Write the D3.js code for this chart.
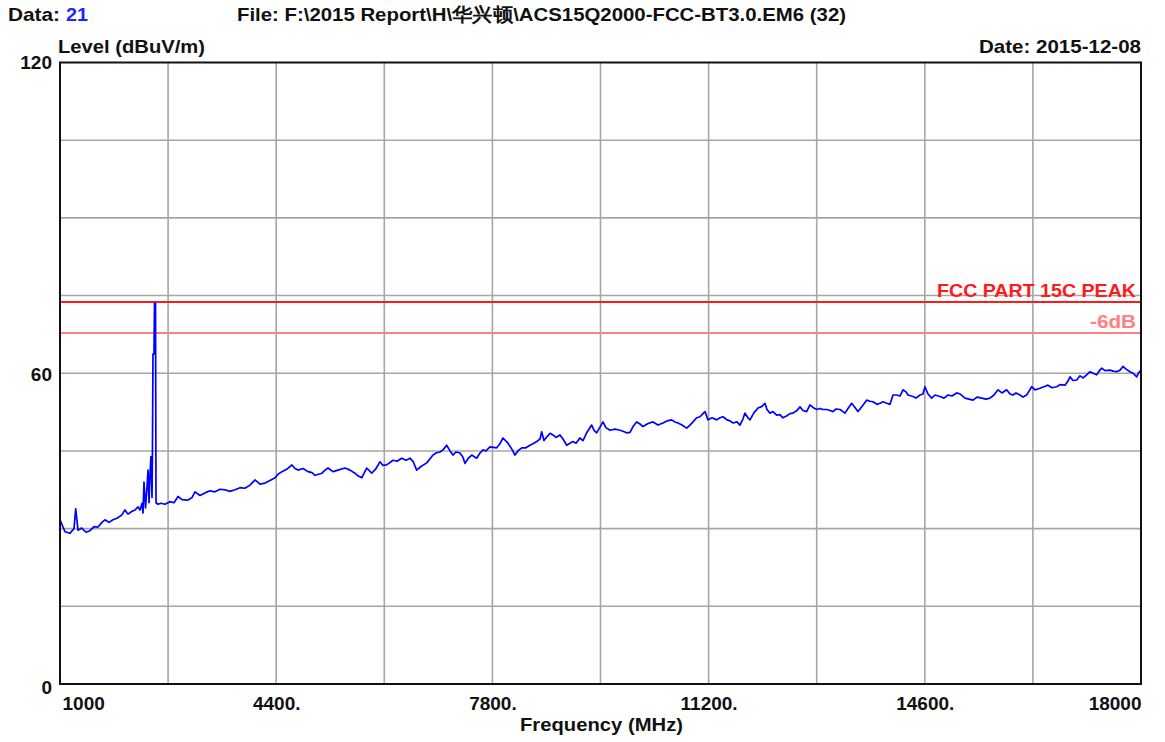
<!DOCTYPE html>
<html>
<head>
<meta charset="utf-8">
<script src="https://cdn.jsdelivr.net/npm/d3@7"></script>
<style>
  body { margin: 0; background: #fff; }
  svg text { font-family: "Liberation Sans", Arial, sans-serif; font-weight: bold; fill: #111; }
</style>
</head>
<body>
<svg id="chart" width="1165" height="742"></svg>
<script>
// sweep (MHz / dBuV/m)
var freqs = [1000,1079,1157,1220,1247,1283,1341,1409,1472,1535,1598,1660,1708,1771,1833,1896,1970,2022,2069,2128,
  2180,2227,2258,2290,2305,2321,2345,2368,2384,2400,2415,2431,2447,2454,2462,2478,2486,2502,2510,2541,
  2588,2651,2698,2730,2793,2856,2919,3013,3076,3123,3202,3280,3359,3437,3516,3595,3673,3752,3831,3909,
  3988,4066,4145,4224,4302,4381,4428,4491,4570,4648,4695,4743,4822,4900,4963,5010,5120,5167,5215,5293,
  5372,5482,5561,5639,5686,5745,5823,5902,5970,6032,6080,6138,6237,6300,6373,6441,6504,6551,6609,6677,
  6767,6866,6913,6976,7023,7081,7133,7180,7227,7290,7337,7369,7416,7474,7553,7605,7652,7699,7762,7867,
  7919,7966,8045,8108,8155,8202,8261,8328,8391,8439,8497,8548,8575,8611,8654,8706,8753,8800,8863,8910,
  8969,9020,9067,9115,9177,9225,9282,9319,9361,9397,9439,9492,9539,9586,9649,9728,9806,9853,9912,9964,
  10011,10069,10121,10168,10247,10326,10404,10483,10546,10619,10671,10719,10781,10855,10907,10955,11013,11065,11112,11144,
  11191,11254,11327,11379,11426,11489,11536,11584,11646,11693,11741,11772,11819,11851,11914,11977,12040,12086,12118,12165,
  12212,12270,12322,12369,12432,12479,12527,12589,12637,12684,12742,12794,12841,12900,12952,12999,13057,13109,13156,13203,
  13266,13313,13345,13392,13450,13502,13549,13612,13686,13738,13785,13848,13895,13943,14001,14053,14100,14158,14210,14257,
  14304,14336,14414,14461,14524,14571,14603,14650,14708,14760,14839,14902,14965,15028,15101,15153,15232,15295,15358,15421,
  15494,15562,15625,15688,15751,15814,15887,15940,15987,16034,16097,16144,16202,16238,16281,16333,16411,16474,16537,16600,
  16674,16726,16805,16852,16884,16931,16989,17041,17089,17136,17199,17246,17304,17340,17382,17434,17513,17560,17618,17670,
  17717,17765,17827,17875,17933,17969,18000];
var levels = [31.7,29.4,29.1,30.0,33.8,29.7,30.1,29.3,29.6,30.4,30.3,31.2,31.7,31.2,31.7,32.0,32.6,33.6,32.8,33.3,
  33.6,34.2,33.6,34.9,33.0,39.0,34.0,38.0,41.3,35.0,40.5,43.9,36.0,45.0,63.7,63.7,73.5,73.5,35.0,34.7,
  34.9,34.7,35.0,35.2,35.0,36.2,35.6,35.5,36.0,37.1,36.4,36.9,37.3,37.1,37.6,37.5,37.2,37.5,37.9,37.8,
  38.4,39.4,38.6,38.8,39.3,39.8,40.5,41.0,41.5,42.3,41.6,41.3,41.6,41.0,40.8,40.3,40.7,41.3,41.7,41.0,
  41.3,41.7,41.3,40.7,40.2,39.8,41.7,40.7,41.6,42.9,42.2,42.3,43.2,43.0,43.6,43.2,43.6,43.0,41.3,42.0,
  42.7,44.2,44.6,44.8,45.2,46.1,45.0,44.2,44.8,44.6,43.8,42.6,43.5,44.2,43.6,44.6,45.2,45.0,45.8,45.6,
  46.4,47.5,46.5,45.3,44.2,45.0,45.6,45.6,46.1,46.4,46.8,47.3,48.7,47.0,47.7,48.4,48.1,47.6,48.1,47.3,
  46.1,46.5,46.8,46.5,47.5,47.0,48.5,49.2,50.0,49.0,48.5,49.6,50.6,49.5,49.0,49.2,49.0,48.8,48.5,48.6,
  49.7,50.6,50.2,49.7,50.3,50.6,50.0,50.4,50.8,51.0,50.6,50.4,50.0,49.4,50.0,50.6,51.4,51.6,52.2,52.6,
  51.0,51.4,51.0,51.4,51.6,51.0,50.8,50.4,50.6,50.0,51.2,52.3,51.4,51.0,52.4,53.3,53.6,54.2,53.0,52.3,
  52.6,51.9,52.0,51.4,51.8,52.2,52.3,52.8,53.5,52.8,52.6,53.9,53.4,53.0,53.2,53.0,53.0,52.8,52.6,53.1,
  53.0,52.6,52.3,53.2,54.2,53.4,52.6,53.6,54.8,54.6,54.5,54.0,54.2,54.5,54.2,54.0,55.8,55.8,55.6,56.8,
  56.4,55.8,55.5,55.2,55.8,56.0,57.4,56.0,55.2,55.8,55.5,55.2,55.8,55.6,56.2,56.0,55.2,55.0,54.8,55.4,
  55.2,55.0,55.2,55.8,56.8,56.2,56.8,56.0,55.8,56.2,55.8,55.4,55.8,56.5,57.4,56.8,57.1,57.4,57.7,57.2,
  57.4,57.8,57.7,58.5,59.3,58.6,58.7,59.5,59.1,59.6,60.3,60.0,59.7,60.4,61.0,60.5,60.6,60.4,60.3,60.6,
  61.3,60.8,60.3,60.0,59.3,60.2,60.6];

var limitNames = ["FCC PART 15C PEAK", "-6dB"];
var limitLevels = [74, 68];
var limitColors = ["#ff1a1a", "#ff8080"];

var xTicks = [1000, 4400, 7800, 11200, 14600, 18000];
var yTicks = [0, 60, 120];

var svg = d3.select("#chart");
var plotLeft = 60, plotRight = 1141, plotTop = 62.5, plotBottom = 684;

var x = d3.scaleLinear().domain([1000, 18000]).range([plotLeft, plotRight]);
var y = d3.scaleLinear().domain([0, 120]).range([plotBottom, plotTop]);

// grid
svg.append("g").selectAll("line")
  .data(d3.range(1000 + 1700, 18000, 1700))
  .join("line")
  .attr("x1", d => x(d)).attr("x2", d => x(d))
  .attr("y1", plotTop).attr("y2", plotBottom)
  .attr("stroke", "#a6a6a6").attr("stroke-width", 1.6);
svg.append("g").selectAll("line")
  .data(d3.range(15, 120, 15))
  .join("line")
  .attr("x1", plotLeft).attr("x2", plotRight)
  .attr("y1", d => y(d)).attr("y2", d => y(d))
  .attr("stroke", "#a6a6a6").attr("stroke-width", 1.6);

// limit lines (drawn 1px lower, like the original)
limitLevels.forEach(function (lv, i) {
  svg.append("line")
    .attr("x1", plotLeft).attr("x2", plotRight)
    .attr("y1", y(lv) + 1.2).attr("y2", y(lv) + 1.2)
    .attr("stroke", limitColors[i]).attr("stroke-width", 2);
});

// trace
var line = d3.line().x((d, i) => x(freqs[i])).y(d => y(d));
svg.append("path")
  .datum(levels)
  .attr("d", line)
  .attr("fill", "none")
  .attr("stroke", "#0000ff")
  .attr("stroke-width", 1.7)
  .attr("stroke-linejoin", "round");

// frame
svg.append("rect")
  .attr("x", plotLeft).attr("y", plotTop)
  .attr("width", plotRight - plotLeft).attr("height", plotBottom - plotTop)
  .attr("fill", "none").attr("stroke", "#111").attr("stroke-width", 2);

// axes
var xAxis = d3.axisBottom(x).tickValues(xTicks).tickSize(0).tickPadding(0)
  .tickFormat(d => (d == 1000 || d == 18000) ? String(d) : d + ".");
var gx = svg.append("g").attr("transform", "translate(0," + plotBottom + ")").call(xAxis);
gx.select(".domain").remove();
gx.selectAll("text")
  .attr("dy", null).attr("y", 26)
  .attr("font-size", 19).attr("fill", "#111")
  .attr("text-anchor", d => d == 1000 ? "start" : (d == 18000 ? "end" : "middle"))
  .attr("x", d => d == 1000 ? 2 : 0);

var yAxis = d3.axisLeft(y).tickValues(yTicks).tickSize(0).tickPadding(0);
var gy = svg.append("g").attr("transform", "translate(" + plotLeft + ",0)").call(yAxis);
gy.select(".domain").remove();
gy.selectAll("text")
  .attr("dy", null).attr("x", -8)
  .attr("y", d => d == 120 ? 6 : (d == 0 ? 9 : 7))
  .attr("font-size", 19).attr("fill", "#111");

// texts
function label(tx, xx, yy, w, col) {
  var t = svg.append("text").attr("x", xx).attr("y", yy).attr("font-size", 19)
    .attr("textLength", w).attr("lengthAdjust", "spacingAndGlyphs").text(tx);
  if (col) t.style("fill", col);
  return t;
}
label("Data:", 8, 21, 52);
label("21", 66, 21, 22, "#2323ff");
label("File: F:\\2015 Report\\H\\华兴顿\\ACS15Q2000-FCC-BT3.0.EM6  (32)", 237, 21, 609);
label("Level (dBuV/m)", 58, 53, 147);
label("Date: 2015-12-08", 979, 53, 162);
label("Frequency (MHz)", 520, 731, 163);
label(limitNames[0], 937, y(limitLevels[0]) - 4, 199, limitColors[0]);
label(limitNames[1], 1090, y(limitLevels[1]) - 4, 46, limitColors[1]);
</script>
</body>
</html>
